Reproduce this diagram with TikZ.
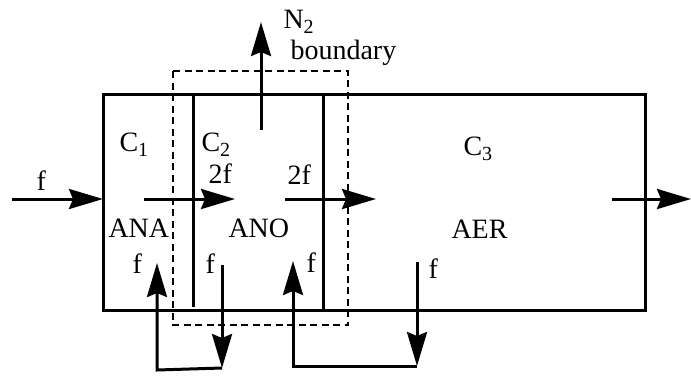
\documentclass[tikz,border=0pt]{standalone}
\usepackage{fontspec}
\setmainfont{Liberation Serif}
\usetikzlibrary{arrows.meta}
\newcommand\lowsub[1]{\raisebox{-5pt}{\fontsize{20}{20}\selectfont #1}}
\begin{document}
\begin{tikzpicture}[x=1pt,y=-1pt,line width=3pt,
  flow/.style={-{Stealth[length=34pt,width=20pt,inset=4pt]}},
  lbl/.style={font=\fontsize{28}{30}\selectfont,inner sep=0pt,anchor=base west},
  bnd/.style={line width=2.8pt,dash pattern=on 7pt off 4.5pt}]
\useasboundingbox (0,0) rectangle (691,375);
% tank
\coordinate (rTL) at (103,94);
\coordinate (rBR) at (645,310);
\draw (rTL) rectangle (rBR);
\coordinate (d1t) at (193,94);
\coordinate (d1b) at (193,307);
\coordinate (d2t) at (323,94);
\coordinate (d2b) at (323,310);
\draw (d1t) -- (d1b);
\draw (d2t) -- (d2b);
% boundary
\coordinate (bTL) at (173,71);
\coordinate (bBR) at (348,325);
\draw[bnd] (bTL) rectangle (bBR);
% main flow
\coordinate (in0) at (12,199);
\coordinate (in1) at (103,199);
\coordinate (a12s) at (144,199);
\coordinate (a12e) at (235,199);
\coordinate (a23s) at (285,199);
\coordinate (a23e) at (376,199);
\coordinate (outs) at (612,199);
\coordinate (oute) at (691,199);
\draw[flow] (in0) -- (in1);
\draw[flow] (a12s) -- (a12e);
\draw[flow] (a23s) -- (a23e);
\draw[flow] (outs) -- (oute);
% N2
\coordinate (n2s) at (261,130);
\coordinate (n2e) at (261,22);
\draw[flow] (n2s) -- (n2e);
% recycle 1
\coordinate (r1a) at (222,265);
\coordinate (r1b) at (222,368);
\coordinate (r1c) at (157,370);
\coordinate (r1d) at (157,263);
\draw[flow] (r1a) -- (r1b);
\draw[flow] (r1b) -- (r1c) -- (r1d);
% recycle 2
\coordinate (r2a) at (417,262);
\coordinate (r2b) at (417,366);
\coordinate (r2c) at (293,366);
\coordinate (r2d) at (293,261);
\draw[flow] (r2a) -- (r2b);
\draw[flow] (r2b) -- (r2c) -- (r2d);
% labels
\node[lbl] (fin) at (35,190) {f};
\node[lbl] (c1) at (118,151) {C\lowsub{1}};
\node[lbl] (c2) at (200,151) {C\lowsub{2}};
\node[lbl] (c3) at (462,155) {C\lowsub{3}};
\node[lbl] (tf1) at (207,183) {2f};
\node[lbl] (tf2) at (286,184) {2f};
\node[lbl] (n2) at (282,28) {N\lowsub{2}};
\node[lbl] (bd) at (289,59) {boundary};
\node[lbl] (ana) at (107,237) {ANA};
\node[lbl] (ano) at (227,237) {ANO};
\node[lbl] (aer) at (450,238) {AER};
\node[lbl] (f1) at (131,273) {f};
\node[lbl] (f2) at (204,273) {f};
\node[lbl] (f3) at (305,272) {f};
\node[lbl] (f4) at (427,278) {f};
\end{tikzpicture}
\end{document}
